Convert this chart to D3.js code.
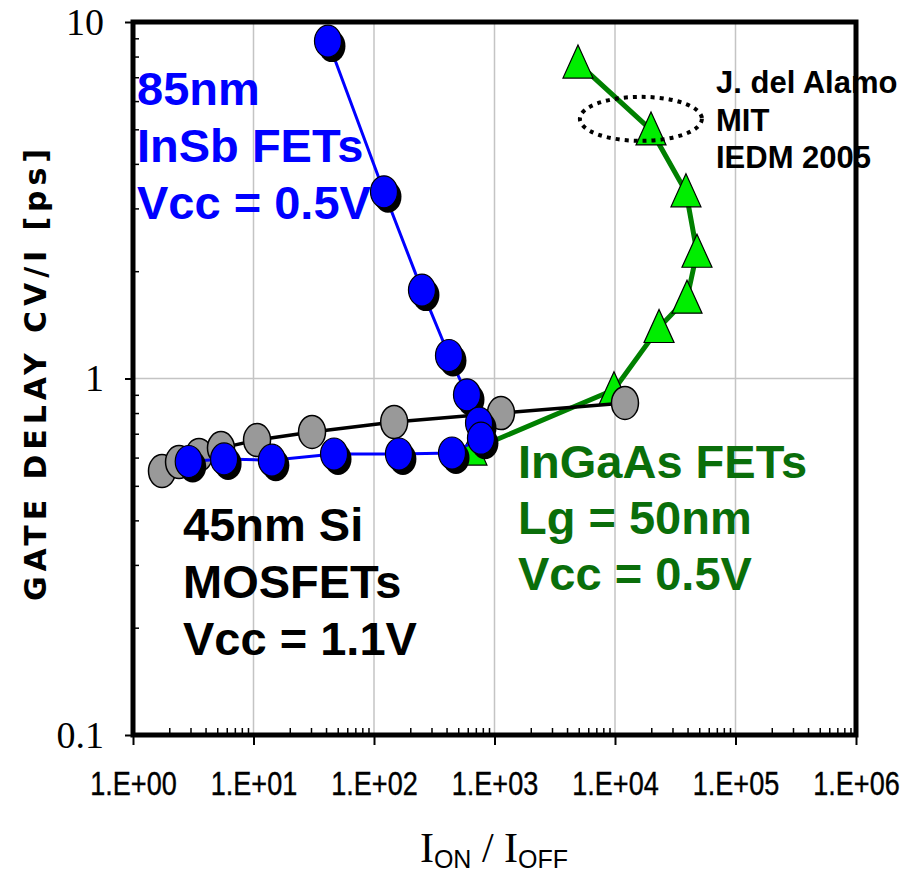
<!DOCTYPE html>
<html>
<head>
<meta charset="utf-8">
<script src="https://cdn.jsdelivr.net/npm/d3@7"></script>
<style>
  body { margin: 0; background: #fff; }
  svg { display: block; }
</style>
</head>
<body>
<div class="chart"></div>
<script>
var width = 912;
var height = 875;

// 45nm Si MOSFETs (gray circles, black line)
var siX = [1.74, 2.41, 3.53, 5.37, 10.7, 30.6, 147, 1132, 12100];
var siY = [0.55, 0.583, 0.61, 0.638, 0.672, 0.708, 0.755, 0.80, 0.854];

// 85nm InSb FETs (blue circles)
var insbX = [41.5, 121, 250, 419, 591, 744, 772, 444, 161, 46.6, 14.2, 5.7, 2.9];
var insbY = [8.84, 3.34, 1.77, 1.16, 0.90, 0.75, 0.68, 0.618, 0.614, 0.614, 0.59, 0.595, 0.585];

// InGaAs FETs (green triangles)
var ingaasX = [4930, 19900, 38800, 47900, 39600, 23200, 9810, 650];
var ingaasY = [7.67, 4.98, 3.34, 2.26, 1.68, 1.39, 0.93, 0.63];

var xTicks = [1, 10, 100, 1e3, 1e4, 1e5, 1e6];
var xTickLabels = ["1.E+00", "1.E+01", "1.E+02", "1.E+03", "1.E+04", "1.E+05", "1.E+06"];
var yTicks = [0.1, 1, 10];
var yTickLabels = ["0.1", "1", "10"];

var svg = d3.select(".chart").append("svg")
    .attr("width", width)
    .attr("height", height);

var x = d3.scaleLog().domain([1, 1e6]).range([133, 856]);
var y = d3.scaleLog().domain([0.1, 10]).range([735, 22]);

// minor tick values
var xMinor = [];
for (var e = 0; e < 6; e++) for (var m = 2; m < 10; m++) xMinor.push(m * Math.pow(10, e));
var yMinor = [];
for (var e2 = -1; e2 < 1; e2++) for (var m2 = 2; m2 < 10; m2++) yMinor.push(m2 * Math.pow(10, e2));

// gridlines
var grid = svg.append("g").attr("class", "grid");
grid.selectAll("line.v")
    .data(xTicks.slice(1, -1))
  .enter().append("line")
    .attr("class", "v")
    .attr("x1", function(d) { return x(d); })
    .attr("x2", function(d) { return x(d); })
    .attr("y1", y(10)).attr("y2", y(0.1))
    .attr("stroke", "#c4c4c4").attr("stroke-width", 1.5);
grid.append("line")
    .attr("x1", x(1)).attr("x2", x(1e6))
    .attr("y1", y(1)).attr("y2", y(1))
    .attr("stroke", "#c4c4c4").attr("stroke-width", 1.5);

// axes
var xAxis = svg.append("g")
    .attr("transform", "translate(0," + y(0.1) + ")")
    .call(d3.axisBottom(x).tickValues(xTicks).tickSize(10).tickPadding(27)
      .tickFormat(function(d, i) { return xTickLabels[i]; }));
xAxis.select(".domain").remove();
xAxis.selectAll(".tick line").attr("stroke", "#000").attr("stroke-width", 2);
xAxis.selectAll(".tick text")
    .attr("font-family", "'Liberation Sans', Arial, sans-serif")
    .attr("font-size", 33)
    .attr("fill", "#000")
    .attr("stroke", "#000")
    .attr("stroke-width", 0.4)
    .attr("transform", "scale(0.82,1)");

var xMinorAxis = svg.append("g")
    .attr("transform", "translate(0," + y(0.1) + ")")
    .call(d3.axisBottom(x).tickValues(xMinor).tickSize(-7).tickFormat(""));
xMinorAxis.select(".domain").remove();
xMinorAxis.selectAll(".tick line").attr("stroke", "#000").attr("stroke-width", 1.5);

var yAxis = svg.append("g")
    .attr("transform", "translate(" + x(1) + ",0)")
    .call(d3.axisLeft(y).tickValues(yTicks).tickSize(8).tickPadding(21)
      .tickFormat(function(d, i) { return yTickLabels[i]; }));
yAxis.select(".domain").remove();
yAxis.selectAll(".tick line").attr("stroke", "#000").attr("stroke-width", 2);
yAxis.selectAll(".tick text")
    .attr("font-family", "'Liberation Serif', 'Times New Roman', serif")
    .attr("font-size", 38)
    .attr("fill", "#000");

var yMinorAxis = svg.append("g")
    .attr("transform", "translate(" + x(1) + ",0)")
    .call(d3.axisLeft(y).tickValues(yMinor).tickSize(-6).tickFormat(""));
yMinorAxis.select(".domain").remove();
yMinorAxis.selectAll(".tick line").attr("stroke", "#000").attr("stroke-width", 1.5);

var line = d3.line()
    .x(function(d) { return x(d[0]); })
    .y(function(d) { return y(d[1]); });

var si = siX.map(function(d, i) { return [d, siY[i]]; });
var insb = insbX.map(function(d, i) { return [d, insbY[i]]; });
var ingaas = ingaasX.map(function(d, i) { return [d, ingaasY[i]]; });

// InGaAs
svg.append("path")
    .datum(ingaas)
    .attr("d", line)
    .attr("fill", "none")
    .attr("stroke", "#008000")
    .attr("stroke-width", 5);
svg.append("g").selectAll("path")
    .data(ingaas)
  .enter().append("path")
    .attr("d", "M0,-18L15,15L-15,15Z")
    .attr("transform", function(d) { return "translate(" + x(d[0]) + "," + y(d[1]) + ")"; })
    .attr("fill", "#00ee00")
    .attr("stroke", "#000")
    .attr("stroke-width", 1.2);

// Si
svg.append("path")
    .datum(si)
    .attr("d", line)
    .attr("fill", "none")
    .attr("stroke", "#000")
    .attr("stroke-width", 3.5);
svg.append("g").selectAll("ellipse")
    .data(si)
  .enter().append("ellipse")
    .attr("cx", function(d) { return x(d[0]); })
    .attr("cy", function(d) { return y(d[1]); })
    .attr("rx", 13.5).attr("ry", 16.5)
    .attr("fill", "#999999")
    .attr("stroke", "#000")
    .attr("stroke-width", 1.5);

// InSb
svg.append("path")
    .datum(insb)
    .attr("d", line)
    .attr("fill", "none")
    .attr("stroke", "#0000ff")
    .attr("stroke-width", 3);
var insbG = svg.append("g").selectAll("g")
    .data(insb)
  .enter().append("g")
    .attr("transform", function(d) { return "translate(" + x(d[0]) + "," + y(d[1]) + ")"; });
insbG.append("ellipse")
    .attr("cx", 4).attr("cy", 5)
    .attr("rx", 13.5).attr("ry", 16)
    .attr("fill", "#000");
insbG.append("ellipse")
    .attr("rx", 13.5).attr("ry", 16)
    .attr("fill", "#0000ff")
    .attr("stroke", "#000")
    .attr("stroke-width", 1.2);

// dotted ellipse annotation
svg.append("ellipse")
    .attr("cx", x(16400)).attr("cy", y(5.35))
    .attr("rx", 61).attr("ry", 22)
    .attr("fill", "none")
    .attr("stroke", "#000")
    .attr("stroke-width", 4)
    .attr("stroke-dasharray", "4,5");

// labels
function block(lines, x0, y0, dy, size, color) {
  var t = svg.append("text")
      .attr("font-family", "'Liberation Sans', Arial, sans-serif")
      .attr("font-weight", "bold")
      .attr("font-size", size)
      .attr("fill", color);
  lines.forEach(function(s, i) {
    t.append("tspan").attr("x", x0).attr("y", y0 + i * dy).text(s);
  });
}
block(["85nm", "InSb FETs", "Vcc = 0.5V"], 137, 105, 57, 47, "#0000ff");
block(["InGaAs FETs", "Lg = 50nm", "Vcc = 0.5V"], 518, 478, 56, 47, "#0a6e0a");
block(["45nm Si", "MOSFETs", "Vcc = 1.1V"], 183, 541, 57, 47, "#000");
block(["J. del Alamo", "MIT", "IEDM 2005"], 716, 93, 37.5, 31, "#000");

// frame
svg.append("rect")
    .attr("x", x(1)).attr("y", y(10))
    .attr("width", x(1e6) - x(1))
    .attr("height", y(0.1) - y(10))
    .attr("fill", "none")
    .attr("stroke", "#000")
    .attr("stroke-width", 5);

// axis titles
svg.append("text")
    .attr("transform", "translate(46,375) rotate(-90)")
    .attr("text-anchor", "middle")
    .attr("font-family", "'DejaVu Sans', Arial, sans-serif")
    .attr("font-weight", "bold")
    .attr("font-size", 30)
    .attr("textLength", 452)
    .attr("lengthAdjust", "spacing")
    .attr("fill", "#000")
    .text("GATE DELAY CV/I [ps]");

var xt = svg.append("text")
    .attr("x", 494).attr("y", 862)
    .attr("text-anchor", "middle")
    .attr("font-family", "'Liberation Serif', 'Times New Roman', serif")
    .attr("font-size", 42)
    .attr("fill", "#000");
xt.append("tspan").text("I");
xt.append("tspan").attr("dy", 6).attr("font-size", 25)
    .attr("font-family", "'Liberation Sans Narrow', 'Liberation Sans', sans-serif").text("ON");
xt.append("tspan").attr("dy", -6).text(" / I");
xt.append("tspan").attr("dy", 6).attr("font-size", 25)
    .attr("font-family", "'Liberation Sans Narrow', 'Liberation Sans', sans-serif").text("OFF");
</script>
</body>
</html>
